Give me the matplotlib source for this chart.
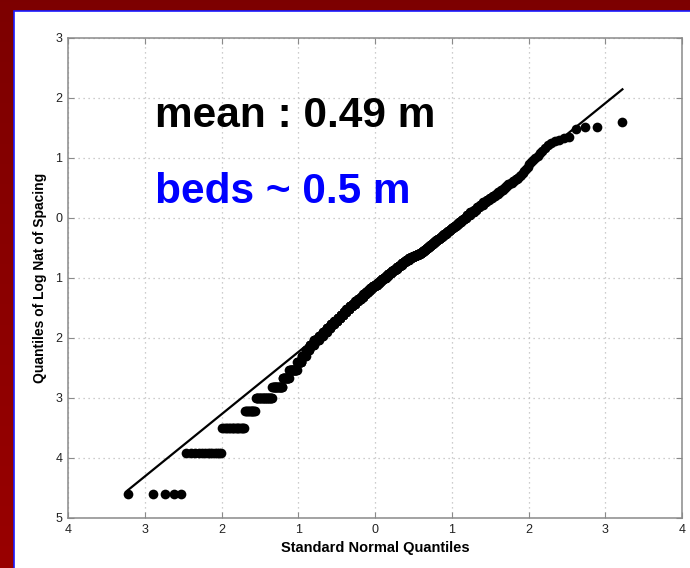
"""Normal probability plot of log bed spacings (qqplot style)."""
from statistics import NormalDist

import numpy as np
import matplotlib

matplotlib.use("Agg")
import matplotlib.pyplot as plt
from matplotlib.patches import Rectangle

# number of bed spacings at each whole centimetre, 1 cm .. 99 cm
count_per_cm = [
    5, 13, 17, 12, 24, 19, 14, 18, 12, 11,
    10, 13, 15, 13, 13, 13, 13, 12, 11, 11,
    11, 12, 12, 11, 11, 11, 10, 10, 10, 9,
    9, 10, 9, 9, 9, 8, 9, 8, 7, 8,
    7, 7, 7, 7, 6, 7, 6, 6, 5, 9,
    9, 8, 8, 8, 8, 5, 4, 5, 4, 4,
    4, 4, 4, 4, 4, 3, 4, 3, 4, 3,
    3, 3, 3, 3, 3, 3, 2, 3, 2, 3,
    2, 3, 2, 2, 2, 3, 2, 2, 2, 1,
    2, 2, 2, 2, 1, 2, 2, 1, 2,
]
# spacings from 1.00 m to 3.45 m, counted in 5 cm steps
count_per_5cm = [
    4, 7, 7, 5, 5, 5, 5, 4, 4, 4,
    3, 3, 3, 2, 2, 2, 2, 2, 2, 1,
    1, 1, 1, 0, 1, 1, 0, 1, 0, 1,
    0, 1, 0, 1, 1, 0, 1, 0, 0, 1,
    0, 1, 0, 0, 1, 0, 0, 1, 0, 0,
]
# longest spacings (cm)
long_spacings_cm = [350, 359, 369, 380, 388, 438, 457, 457, 493]

x_ticks = [-4, -3, -2, -1, 0, 1, 2, 3, 4]
x_tick_labels = ["4", "3", "2", "1", "0", "1", "2", "3", "4"]
y_ticks = [3, 2, 1, 0, -1, -2, -3, -4, -5]
y_tick_labels = ["3", "2", "1", "0", "1", "2", "3", "4", "5"]

mean_text = "mean : 0.49 m"
beds_text = "beds ~ 0.5 m"

# ---------------------------------------------------------------------------
# build the sample (metres) and its normal quantiles
# ---------------------------------------------------------------------------
spacing_cm = np.concatenate([
    np.repeat(np.arange(1, 100), count_per_cm),
    np.repeat(np.arange(100, 350, 5), count_per_5cm),
    np.array(long_spacings_cm),
])
log_spacing = np.sort(np.log(spacing_cm / 100.0))
n = len(log_spacing)
nd = NormalDist()
theo = np.array([nd.inv_cdf((i - 0.5) / n) for i in range(1, n + 1)])

# reference line through the first and third quartiles
q1, q3 = np.percentile(log_spacing, [25, 75])
t1, t3 = nd.inv_cdf(0.25), nd.inv_cdf(0.75)
slope = (q3 - q1) / (t3 - t1)
x_line = np.array([theo.min(), theo.max()])
y_line = q1 + slope * (x_line - t1)

plt.rcParams["font.family"] = ["Liberation Sans", "DejaVu Sans"]

W, H = 690, 568
fig = plt.figure(figsize=(W / 100, H / 100), dpi=100)

# dark red backdrop with a white slide panel
bg = fig.add_axes([0, 0, 1, 1], zorder=0)
grad = np.linspace(0, 1, 256).reshape(-1, 1)
top_c = np.array([0.49, 0.0, 0.0])
bot_c = np.array([0.60, 0.0, 0.0])
img = top_c + (bot_c - top_c) * grad[..., None]
bg.imshow(img, aspect="auto", extent=[0, 1, 0, 1], origin="upper")
bg.add_patch(Rectangle((14 / W, -0.01), 1.0, 1.01 - 11 / H,
                       transform=bg.transAxes, facecolor="white",
                       edgecolor="#1a1aff", linewidth=1.2))
bg.set_xlim(0, 1)
bg.set_ylim(0, 1)
bg.axis("off")

ax = fig.add_axes([68 / W, 1 - 518 / H, 614 / W, 480 / H], zorder=2)
frame_c = "#8a8a8a"

ax.plot(x_line, y_line, color="black", linewidth=1.6, zorder=3)
ax.plot(theo, log_spacing, "o", color="black", markersize=7,
        markeredgewidth=0, zorder=4)

ax.set_xlim(-4, 4)
ax.set_ylim(-5, 3)
ax.set_xticks(x_ticks)
ax.set_xticklabels(x_tick_labels)
ax.set_yticks(y_ticks)
ax.set_yticklabels(y_tick_labels)
ax.tick_params(direction="in", length=4, width=0.8, color=frame_c,
               labelsize=9, labelcolor="#222222", top=True, right=True, pad=4)
for s in ax.spines.values():
    s.set_color(frame_c)
    s.set_linewidth(1.1)
ax.grid(True, linestyle=(0, (1, 3)), color="#bdbdbd", linewidth=0.9)
ax.set_axisbelow(True)

ax.set_xlabel("Standard Normal Quantiles", fontsize=10.5, fontweight="bold",
              labelpad=4)
ax.set_ylabel("Quantiles of Log Nat of Spacing", fontsize=10, fontweight="bold",
              labelpad=6)

ax.text(-2.87, 1.52, mean_text, fontsize=30.5, fontweight="bold",
        color="black", va="baseline", ha="left", zorder=5)
ax.text(-2.87, 0.25, beds_text, fontsize=30.5, fontweight="bold",
        color="#0000ff", va="baseline", ha="left", zorder=5)

fig.savefig("out.png", dpi=100)
